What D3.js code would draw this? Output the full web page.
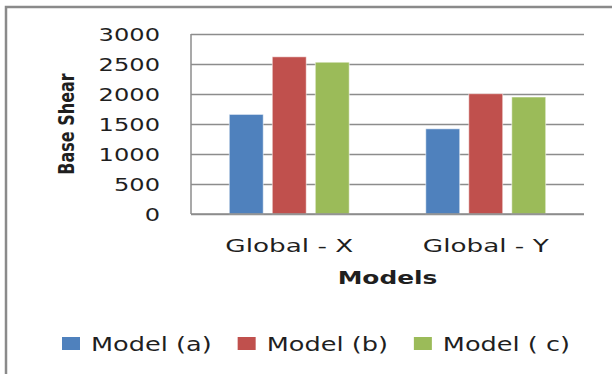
<!DOCTYPE html>
<html>
<head>
<meta charset="utf-8">
<script src="https://cdn.jsdelivr.net/npm/d3@7"></script>
<style>
  html, body { margin: 0; padding: 0; background: #fff; }
  svg { display: block; }
  text { font-family: "DejaVu Sans", sans-serif; fill: #1f1f1f; }
</style>
</head>
<body>
<svg id="chart" width="612" height="374"></svg>
<script>
// ---------------- data ----------------
const categories = ["Global - X", "Global - Y"];
const seriesNames = ["Model (a)", "Model (b)", "Model ( c)"];
const modelA = [1660, 1420];
const modelB = [2620, 2005];
const modelC = [2530, 1950];
const yTicks = [0, 500, 1000, 1500, 2000, 2500, 3000];

const seriesValues = [modelA, modelB, modelC];
const colors = ["#4f81bd", "#c0504d", "#9bbb59"];

// ---------------- layout ----------------
const W = 612, H = 374;
const SX = 1.42;            // horizontal stretch of the source text
const plot = { left: 191, right: 584, top: 34, bottom: 214 };

const svg = d3.select("#chart");

// outer frame (only top & left edges show in the crop)
svg.append("rect")
  .attr("x", 6).attr("y", 7)
  .attr("width", W + 20).attr("height", H + 20)
  .attr("fill", "none")
  .attr("stroke", "#8a8a8a")
  .attr("stroke-width", 2.5);

// scales
const y = d3.scaleLinear().domain([0, 3000]).range([plot.bottom, plot.top]);
const x0 = d3.scaleBand().domain(categories).range([plot.left, plot.right]).padding(0);
const x1 = d3.scaleBand().domain(seriesNames).range([0, x0.bandwidth()])
  .paddingInner(0.21).paddingOuter(0.89);

// gridlines + y labels
const yAxis = svg.append("g")
  .attr("transform", `translate(${plot.left},0)`)
  .call(d3.axisLeft(y).tickValues(yTicks).tickSize(-(plot.right - plot.left)).tickFormat(d3.format("d")));

yAxis.select(".domain").remove();
yAxis.selectAll(".tick line")
  .attr("stroke", "#8c8c8c")
  .attr("stroke-width", 1.5);
yAxis.selectAll(".tick text")
  .attr("x", null).attr("dy", "0.36em")
  .attr("text-anchor", "end")
  .attr("transform", `translate(-31,0) scale(${SX},1)`)
  .style("font-size", "17px")
  .style("font-family", "DejaVu Sans, sans-serif")
  .style("fill", "#1f1f1f");

// left axis line
svg.append("line")
  .attr("x1", plot.left).attr("x2", plot.left)
  .attr("y1", y(3000)).attr("y2", y(0))
  .attr("stroke", "#8c8c8c").attr("stroke-width", 1.5);

// bars
const groups = svg.append("g").selectAll("g")
  .data(categories)
  .join("g")
  .attr("transform", d => `translate(${x0(d)},0)`);

groups.selectAll("rect")
  .data((c, ci) => seriesNames.map((s, si) => ({ s, si, v: seriesValues[si][ci] })))
  .join("rect")
  .attr("x", d => x1(d.s))
  .attr("width", x1.bandwidth())
  .attr("y", d => y(d.v))
  .attr("height", d => y(0) - y(d.v))
  .attr("fill", d => colors[d.si])
  .attr("stroke", "rgba(255,255,255,0.55)")
  .attr("stroke-width", 1);

// bottom axis line on top of bars
svg.append("line")
  .attr("x1", plot.left).attr("x2", plot.right)
  .attr("y1", y(0)).attr("y2", y(0))
  .attr("stroke", "#8c8c8c").attr("stroke-width", 1.5);

// category labels
const xAxis = svg.append("g")
  .attr("transform", `translate(0,${plot.bottom})`)
  .call(d3.axisBottom(x0).tickSize(0));
xAxis.select(".domain").remove();
xAxis.selectAll(".tick text")
  .attr("y", null).attr("dy", null)
  .attr("transform", `translate(0,38) scale(${SX},1)`)
  .style("font-size", "18.5px")
  .style("font-family", "DejaVu Sans, sans-serif")
  .style("fill", "#1f1f1f");

// axis titles
svg.append("text")
  .attr("text-anchor", "middle")
  .attr("transform", `translate(${(plot.left + plot.right) / 2},284) scale(${SX},1)`)
  .style("font-size", "17.5px")
  .style("font-weight", "bold")
  .text("Models");

svg.append("text")
  .attr("text-anchor", "middle")
  .attr("transform", `translate(74,${(plot.top + plot.bottom) / 2}) rotate(-90) scale(1,1.3)`)
  .style("font-size", "16px")
  .style("font-weight", "bold")
  .text("Base Shear");

// legend
const LSX = 1.28;
const legend = svg.append("g").attr("transform", "translate(62,0)");
let lx = 0;
seriesNames.forEach((name, i) => {
  legend.append("rect")
    .attr("x", lx).attr("y", 337)
    .attr("width", 18).attr("height", 13)
    .attr("fill", colors[i]);
  const t = legend.append("text")
    .attr("transform", `translate(${lx + 29},350.5) scale(${LSX},1)`)
    .style("font-size", "20px")
    .text(name);
  lx += 29 + t.node().getComputedTextLength() * LSX + 26;
});
</script>
</body>
</html>
